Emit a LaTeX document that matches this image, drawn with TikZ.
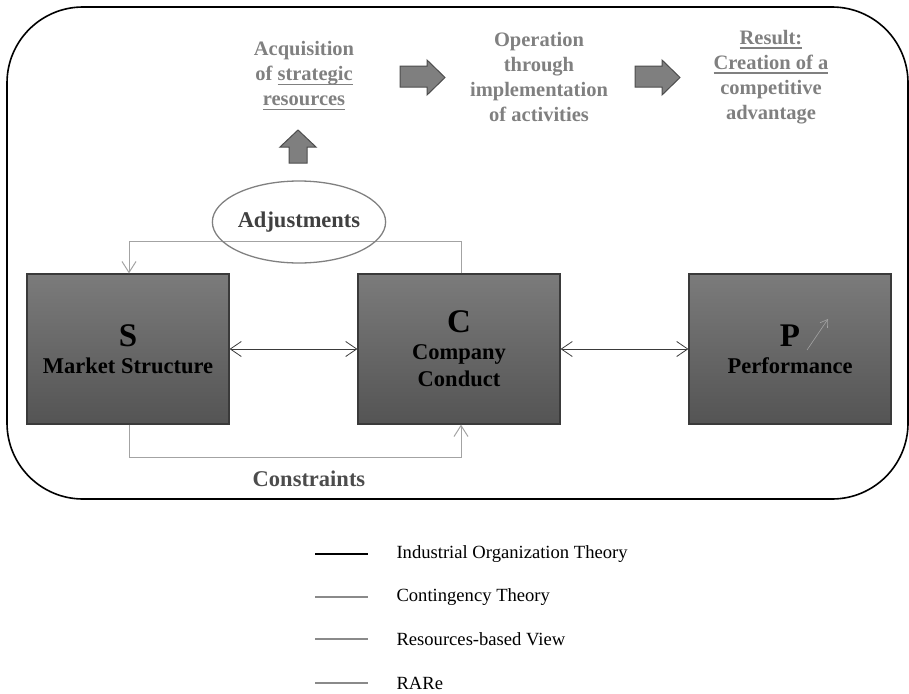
\documentclass[tikz,border=0pt]{standalone}
\usepackage{fontspec}
\setmainfont{Liberation Serif}
\usetikzlibrary{shapes.geometric,arrows.meta}
\definecolor{toptxt}{HTML}{808080}
\definecolor{boxtop}{HTML}{7B7B7B}
\definecolor{boxbot}{HTML}{545454}
\definecolor{boxline}{HTML}{3A3A3A}
\definecolor{linkgray}{HTML}{A3A3A3}
\definecolor{blockfill}{HTML}{7F7F7F}
\definecolor{blockline}{HTML}{4D4D4D}
\definecolor{legendgray}{HTML}{8A8A8A}
\newsavebox{\ulbox}
\newcommand{\undl}[1]{\sbox{\ulbox}{#1}\rlap{\rule[-4.5pt]{\wd\ulbox}{1.8pt}}\usebox{\ulbox}}

\begin{document}
\begin{tikzpicture}[x=1pt,y=-1pt,
  scpbox/.style={rectangle,draw=boxline,line width=1.2pt,top color=boxtop,bottom color=boxbot,
    minimum width=202pt,minimum height=150pt,inner sep=0pt,align=center,
    font=\fontsize{22.5}{27}\selectfont\bfseries},
  stagetext/.style={align=center,text=toptxt,font=\fontsize{20.5}{25}\selectfont\bfseries},
  blockarrow/.style={fill=blockfill,draw=blockline,line width=1pt,line join=miter},
  twoway/.style={{Straight Barb[length=11pt,width=15pt]}-{Straight Barb[length=11pt,width=15pt]},draw=boxline,line width=0.8pt},
  feedback/.style={-{Straight Barb[length=11pt,width=14pt]},draw=linkgray,line width=1pt},
  legendtext/.style={anchor=west,font=\fontsize{18.6}{22}\selectfont}]
\useasboundingbox (0,0) rectangle (909,693);

% outer frame
\draw[line width=1.6pt,rounded corners=76pt] (7,7) rectangle (908,499);

% stages
\node[stagetext] (acq) at (304,76) {Acquisition\\of \undl{strategic}\\\undl{resources}};
\node[stagetext] (oper) at (539,77) {Operation\\through\\implementation\\of activities};
\node[stagetext] (res) at (771,77) {\undl{Result:}\\\undl{Creation of a}\\competitive\\advantage};

\foreach \x in {400,635}
  \draw[blockarrow] (\x,66) -- ({\x+27},66) -- ({\x+27},60) -- ({\x+45},77.5) -- ({\x+27},95) -- ({\x+27},87) -- (\x,87) -- cycle;
\draw[blockarrow] (289,163) -- (289,147) -- (280,147) -- (298,130) -- (316,147) -- (307,147) -- (307,163) -- cycle;

% S C P
\node[scpbox] (sbox) at (128,349) {{\fontsize{33}{27}\selectfont S}\\Market Structure};
\node[scpbox] (cbox) at (459,349) {{\fontsize{33}{27}\selectfont C}\\Company\\Conduct};
\node[scpbox] (pbox) at (790,349) {{\fontsize{33}{27}\selectfont P}\\Performance};

\draw[twoway] (sbox.east) -- (cbox.west);
\draw[twoway] (cbox.east) -- (pbox.west);

\coordinate (upfrom) at (807,350);
\coordinate (upto) at (828,319);
\draw[-{Straight Barb[length=7pt,width=9pt]},draw=linkgray,line width=0.6pt] (upfrom) -- (upto);

% adjustments / constraints
\draw[feedback] ([xshift=2pt]cbox.north) -- ++(0,-32) -| ([xshift=1pt]sbox.north);
\node[ellipse,draw=toptxt,line width=1.3pt,minimum width=140pt,minimum height=82pt,inner sep=0pt,
  text=black!75,font=\fontsize{22.5}{27}\selectfont\bfseries] (adj) at (299,222) {Adjustments};
\draw[feedback] ([xshift=1pt]sbox.south) -- ++(0,33) -| ([xshift=2pt]cbox.south);
\node[text=black!70,font=\fontsize{22.5}{27}\selectfont\bfseries] (cons) at (309,479) {Constraints};

% legend
\foreach \i/\yy/\col/\txt in {1/554/black/Industrial Organization Theory,2/597/legendgray/Contingency Theory,3/639/legendgray/Resources-based View,4/683/legendgray/RARe}{
  \node[legendtext] (lg\i) at (393,\yy) {\txt};
  \draw[\col,line width=1.8pt] (315,\yy) -- (368,\yy);
}
\end{tikzpicture}
\end{document}
